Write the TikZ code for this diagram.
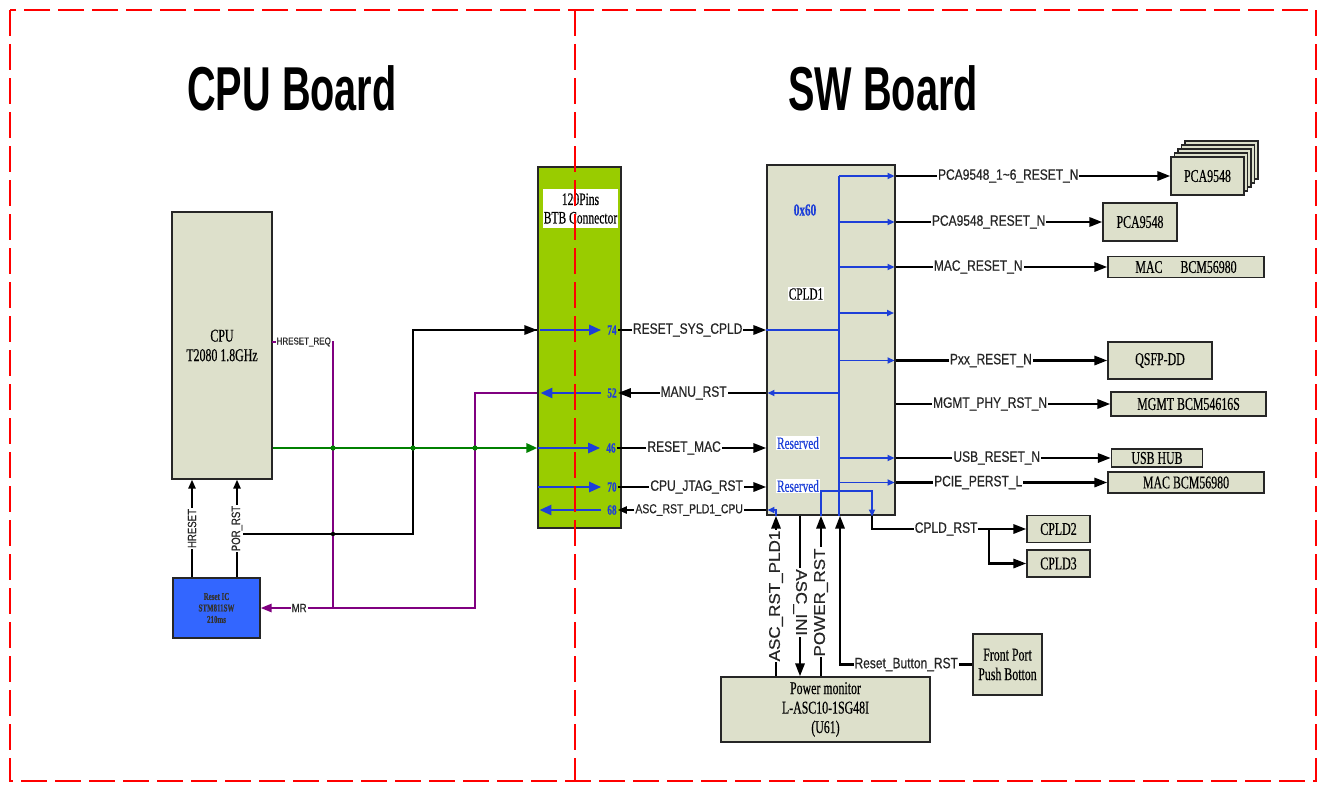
\documentclass[tikz,border=0pt]{standalone}
\usepackage{fontspec}
\usetikzlibrary{arrows.meta}
\newfontfamily\boxfont[FakeStretch=0.66,FakeBold=0.4]{Liberation Serif}
\newfontfamily\sigfont[FakeStretch=0.8,FakeBold=0.5]{Liberation Sans}
\newfontfamily\vsigfont[FakeStretch=1.1,FakeBold=0.5]{Liberation Sans}
\newfontfamily\titlefont[FakeStretch=0.64]{Liberation Sans}
\definecolor{hwfill}{HTML}{DDE0CB}
\definecolor{btbgreen}{HTML}{99CC00}
\definecolor{rstblue}{HTML}{3366FF}
\definecolor{busblue}{HTML}{1D3FD8}
\definecolor{mrpurple}{HTML}{800080}
\definecolor{clkgreen}{HTML}{008000}
\definecolor{boardred}{HTML}{FF0000}

\begin{document}
\begin{tikzpicture}[
  x=1pt, y=-1pt,
  hwbox/.style    = {rectangle, draw=black!85, line width=1.1pt, fill=hwfill, inner sep=0pt,
                     align=center, font=\boxfont\fontsize{18}{19.5}\selectfont},
  board/.style    = {draw=boardred, line width=2.6pt, dash pattern=on 26pt off 8pt},
  boardtitle/.style = {font=\titlefont\bfseries\fontsize{62}{62}\selectfont},
  sigline/.style  = {draw=black, line width=2.8pt},
  sigarrow/.style = {sigline, -{Triangle[length=13pt,width=9pt]}},
  thinarrow/.style = {draw=black, line width=2.2pt, -{Triangle[length=9pt,width=7pt]}},
  siglabel/.style = {fill=white, inner sep=1pt, text=black!85, font=\sigfont\fontsize{15}{15}\selectfont},
  smalllabel/.style = {siglabel, font=\sigfont\fontsize{12}{12}\selectfont},
  vlabel/.style   = {siglabel, font=\vsigfont\fontsize{15.5}{15.5}\selectfont},
  pinnum/.style   = {inner sep=1pt, text=busblue, font=\boxfont\bfseries\fontsize{14}{14}\selectfont},
  pinarrow/.style = {draw=busblue, line width=2.6pt, -{Triangle[length=12pt,width=10pt]}},
  busline/.style  = {draw=busblue, line width=1.8pt},
  busarrow/.style = {busline, -{Triangle[length=7pt,width=6pt]}},
  mrline/.style   = {draw=mrpurple, line width=2.4pt},
  mrarrow/.style  = {mrline, -{Triangle[length=11pt,width=8pt]}},
  clkarrow/.style = {draw=clkgreen, line width=2.8pt, -{Triangle[length=11pt,width=9pt]}},
  tag/.style      = {fill=white, inner sep=1pt, font=\boxfont\fontsize{17}{17}\selectfont},
]
\useasboundingbox (0,0) rectangle (1324,784);

% titles
\node[boardtitle] (cputitle) at (292,88) {CPU Board};
\node[boardtitle] (swtitle)  at (883,88) {SW Board};

% CPU board
\node[hwbox, minimum width=100, minimum height=267] (cpu) at (222,345.5) {CPU\\T2080 1.8GHz};
\node[hwbox, fill=rstblue, minimum width=87, minimum height=60, text=black!80,
      font=\boxfont\bfseries\fontsize{10.5}{11.5}\selectfont] (rstic) at (216.5,608) {Reset IC\\STM811SW\\210ms};

% connector
\node[hwbox, fill=btbgreen, minimum width=83, minimum height=361] (btb) at (579.5,347.5) {};
\node[fill=white, inner sep=0pt, minimum width=75, minimum height=39, align=center,
      font=\boxfont\fontsize{17.5}{18.5}\selectfont] (btblabel) at (580.5,208.5) {120Pins\\BTB Connector};
\node[pinnum] (p74) at (612,330) {74};
\node[pinnum] (p52) at (612,393) {52};
\node[pinnum] (p46) at (611,448) {46};
\node[pinnum] (p70) at (612,487) {70};
\node[pinnum] (p68) at (612,510) {68};
\draw[pinarrow] ([xshift=3pt]btb.west |- p74) -- ([xshift=-5pt]p74.west);
\draw[pinarrow] ([xshift=-5pt]p52.west) -- ([xshift=3pt]btb.west |- p52);
\draw[pinarrow] ([xshift=1pt]btb.west |- p46) -- ([xshift=-5pt]p46.west);
\draw[pinarrow] ([xshift=1pt]btb.west |- p70) -- ([xshift=-5pt]p70.west);
\draw[pinarrow] ([xshift=-5pt]p68.west) -- ([xshift=2pt]btb.west |- p68);

% CPLD1
\node[hwbox, minimum width=128, minimum height=350] (cpld) at (831,340) {};
\node[text=busblue, font=\boxfont\bfseries\fontsize{17}{17}\selectfont] (addr) at (805,210) {0x60};
\node[tag] (cpldname) at (806,294) {CPLD1};
\node[tag, text=busblue] (rsv1) at (798,443) {Reserved};
\node[tag, text=busblue] (rsv2) at (798,486) {Reserved};

% devices
\foreach \k in {4,3,2,1}
  \node[hwbox, minimum width=73, minimum height=38] at ({1207.5+3.5*\k},{176-4*\k}) {};
\node[hwbox, minimum width=73, minimum height=38]  (pcaA)  at (1207.5,176) {PCA9548};
\node[hwbox, minimum width=74, minimum height=38]  (pcaB)  at (1140,222) {PCA9548};
\node[hwbox, minimum width=156, minimum height=21] (macA)  at (1186,267) {MAC\quad BCM56980};
\node[hwbox, minimum width=104, minimum height=37] (qsfp)  at (1160,360.5) {QSFP-DD};
\node[hwbox, minimum width=155, minimum height=24] (mgmt)  at (1188.5,404) {MGMT BCM54616S};
\node[hwbox, minimum width=91, minimum height=18]  (usb)   at (1157,458) {USB HUB};
\node[hwbox, minimum width=156, minimum height=21] (pcie)  at (1186,482.5) {MAC BCM56980};
\node[hwbox, minimum width=63, minimum height=27]  (cpld2) at (1058.5,529) {CPLD2};
\node[hwbox, minimum width=63, minimum height=27]  (cpld3) at (1058.5,563.5) {CPLD3};
\node[hwbox, minimum width=209, minimum height=65] (pmon)  at (825.5,709.5) {Power monitor\\L-ASC10-1SG48I\\(U61)};
\node[hwbox, minimum width=69, minimum height=61]  (front) at (1007.5,664.5) {Front Port\\Push Botton};

% columns
\coordinate (xhr)  at (192,0);
\coordinate (xpor) at (237,0);
\coordinate (xreq) at (333,0);
\coordinate (xjt)  at (413,0);
\coordinate (xmr)  at (475,0);
\coordinate (bus)  at (839,0);
\coordinate (xa)   at (776,0);
\coordinate (xb)   at (800,0);
\coordinate (xc)   at (821,0);
\coordinate (xd)   at (840,0);
\coordinate (xe)   at (872,0);
\coordinate (porfork) at (237,534);
\coordinate (hreqpin) at (272,342);
\coordinate (spare)   at (895,313);
\coordinate (rstsel)  at (872,491);
\coordinate (cpldfork) at (989,0);

% CPU side wiring
\draw[sigline] (porfork) -| (xjt |- p74) -- (btb.west |- p74);
\draw[sigarrow] (xjt |- p74) -- (btb.west |- p74);
\draw[thinarrow] (rstic.north -| xhr) -- node[smalllabel, rotate=90] {HRESET} (cpu.south -| xhr);
\draw[thinarrow] (rstic.north -| xpor) -- node[smalllabel, rotate=90] {POR\_RST} (cpu.south -| xpor);
\draw[clkarrow] (cpu.east |- p46) -- (btb.west |- p46);
\draw[mrline] (hreqpin) -- node[siglabel, pos=0.52, font=\sigfont\fontsize{10}{10}\selectfont] {HRESET\_REQ}
  (xreq |- hreqpin) -- (xreq |- rstic.east);
\draw[mrarrow] (btb.west |- p52) -| (xmr |- rstic.east) -- node[smalllabel, pos=0.82] {MR} (rstic.east);
\foreach \c in {xreq,xjt,xmr}
  \fill[clkgreen] (\c |- p46) circle (2.6pt);
\fill[black] (xreq |- porfork) circle (2.2pt);

% connector to CPLD1
\draw[sigarrow] (p74.east) -- node[siglabel, pos=0.47] {RESET\_SYS\_CPLD} (cpld.west |- p74);
\draw[sigarrow] (cpld.west |- p52) -- node[siglabel, pos=0.49] {MANU\_RST} (p52.east);
\draw[sigarrow] (p46.east) -- node[siglabel, pos=0.45] {RESET\_MAC} (cpld.west |- p46);
\draw[sigarrow] (p70.east) -- node[siglabel, pos=0.53] {CPU\_JTAG\_RST} (cpld.west |- p70);
\draw[thinarrow] (cpld.west |- p68) -- node[siglabel, pos=0.52, font=\sigfont\fontsize{13}{13}\selectfont] {ASC\_RST\_PLD1\_CPU} (p68.east);

% CPLD1 internal bus
\draw[busline] (bus |- pcaA.west) -- (bus |- cpld.south);
\draw[busline] (cpld.west |- p74) -- (bus |- p74);
\draw[busarrow] (bus |- p52) -- ([xshift=1pt]cpld.west |- p52);
\foreach \t in {pcaA,pcaB,macA,qsfp,usb,pcie}
  \draw[busarrow] (bus |- \t.west) -- ([xshift=-1pt]cpld.east |- \t.west);
\draw[busarrow] (bus |- spare) -- ([xshift=-1pt]spare);
\draw[busarrow] (cpld.south -| xa) |- ([xshift=1pt]cpld.west |- p68);
\draw[busarrow] (cpld.south -| xc) |- (rstsel) -- ([yshift=-1pt]cpld.south -| rstsel);

% CPLD1 to devices
\draw[sigarrow] (cpld.east |- pcaA.west) -- node[siglabel, pos=0.41] {PCA9548\_1\textasciitilde6\_RESET\_N} (pcaA.west);
\draw[sigarrow] (cpld.east |- pcaB.west) -- node[siglabel, pos=0.45] {PCA9548\_RESET\_N} (pcaB.west);
\draw[sigarrow] (cpld.east |- macA.west) -- node[siglabel, pos=0.39] {MAC\_RESET\_N} (macA.west);
\draw[sigarrow] (cpld.east |- qsfp.west) -- node[siglabel, pos=0.45] {Pxx\_RESET\_N} (qsfp.west);
\draw[sigarrow] (cpld.east |- mgmt.west) -- node[siglabel, pos=0.44] {MGMT\_PHY\_RST\_N} (mgmt.west);
\draw[sigarrow] (cpld.east |- usb.west) -- node[siglabel, pos=0.47] {USB\_RESET\_N} (usb.west);
\draw[sigarrow] (cpld.east |- pcie.west) -- node[siglabel, pos=0.39] {PCIE\_PERST\_L} (pcie.west);
\draw[sigarrow] (cpld.south -| xe) |- node[siglabel, pos=0.74] {CPLD\_RST} (cpld2.west);
\draw[sigarrow] (cpld2.west -| cpldfork) |- (cpld3.west);

% power monitor and push button
\draw[sigarrow] (pmon.north -| xa) -- node[vlabel, rotate=90, pos=0.5] {ASC\_RST\_PLD1} (cpld.south -| xa);
\draw[sigarrow] (cpld.south -| xb) -- node[vlabel, rotate=-90, pos=0.54] {ASC\_INI} (pmon.north -| xb);
\draw[sigarrow] (pmon.north -| xc) -- node[vlabel, rotate=90, pos=0.46] {POWER\_RST} (cpld.south -| xc);
\draw[sigarrow] (front.west) -- node[siglabel, pos=0.5] {Reset\_Button\_RST} (front.west -| xd) -- (cpld.south -| xd);

% board outlines
\draw[board] (10,10) rectangle (1316,781);
\draw[board] (575,10) -- (575,781);
\end{tikzpicture}
\end{document}
